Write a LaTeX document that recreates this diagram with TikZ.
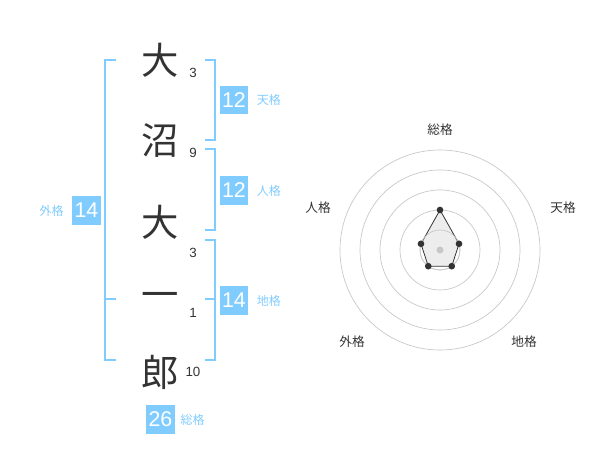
\documentclass[tikz,border=0pt]{standalone}
\usepackage{fontspec}
\usetikzlibrary{positioning,calc}
\setmainfont{Noto Sans CJK JP}
\newfontfamily\digits{Liberation Sans}
\definecolor{skyblue}{HTML}{80CCFF}
\definecolor{inkgray}{HTML}{333333}
\begin{document}
\begin{tikzpicture}[x=0.75pt, y=-0.75pt, font=\small]
      \tikzset{kanji/.style={text=inkgray, font=\fontsize{28}{28}\selectfont, inner sep=0pt},
               stroke/.style={text=inkgray, font=\digits\fontsize{10}{10}\selectfont, inner sep=0pt},
               valbox/.style={fill=skyblue, text=white, minimum width=21.5pt, minimum height=21.5pt, inner sep=0pt, font=\digits\fontsize{16}{16}\selectfont},
               kaku/.style={text=skyblue, font=\fontsize{9}{9}\selectfont, inner sep=0pt},
               brk/.style={draw=skyblue, line width=1.4pt},
               ring/.style={draw=black!22, line width=0.5pt},
               axis/.style={text=inkgray, font=\fontsize{9.5}{9.5}\selectfont, inner sep=0pt},
               dot/.style={circle, fill=inkgray, inner sep=0pt, minimum size=5pt}}
      \useasboundingbox (0,0) rectangle (600,470);

      \node[kanji] (c1) at (160,60) {大};
      \node[kanji] (c2) at (160,141) {沼};
      \node[kanji] (c3) at (160,222) {大};
      \node[kanji] (c4) at (160,300) {一};
      \node[kanji] (c5) at (160,372) {郎};
      \node[stroke] (s1) at (193,73) {3};
      \node[stroke] (s2) at (193,153) {9};
      \node[stroke] (s3) at (193,253) {3};
      \node[stroke] (s4) at (193,313) {1};
      \node[stroke] (s5) at (193,372) {10};

      % brackets
      \draw[brk] (116,60) -- (105,60) -- (105,360) -- (116,360);
      \draw[brk] (105,299) -- (116,299);
      \draw[brk] (205,60) -- (215,60) -- (215,140) -- (205,140);
      \draw[brk] (205,149) -- (215,149) -- (215,230) -- (205,230);
      \draw[brk] (205,240) -- (215,240) -- (215,360) -- (205,360);
      \draw[brk] (205,299) -- (215,299);

      \node[valbox] (ten) at (234,100) {12};
      \node[kaku, right=6pt of ten] (tenl) {天格};
      \node[valbox] (jin) at (234,190.5) {12};
      \node[kaku, right=6pt of jin] (jinl) {人格};
      \node[valbox] (chi) at (234,300.5) {14};
      \node[kaku, right=6pt of chi] (chil) {地格};
      \node[valbox] (gai) at (86.5,210.5) {14};
      \node[kaku, left=6pt of gai] (gail) {外格};
      \node[valbox] (sou) at (160.5,419.5) {26};
      \node[kaku, right=4pt of sou] (soul) {総格};

      % radar
      \coordinate (ctr) at (440,250);
      \foreach \r in {20,40,60,80,100}
        \draw[ring] (ctr) circle[radius=\r];
      \coordinate (p1) at ($(ctr)+(-90:40)$);
      \coordinate (p2) at ($(ctr)+(-18:20)$);
      \coordinate (p3) at ($(ctr)+(54:20)$);
      \coordinate (p4) at ($(ctr)+(126:20)$);
      \coordinate (p5) at ($(ctr)+(-162:20)$);
      \draw[fill=black!7, draw=inkgray, line width=0.6pt] (p1) -- (p2) -- (p3) -- (p4) -- (p5) -- cycle;
      \draw[ring] (ctr) circle[radius=20];
      \fill[black!22] (ctr) circle[radius=3.5];
      \foreach \p in {p1,p2,p3,p4,p5}
        \node[dot] at (\p) {};
      \node[axis] (rsou) at (440,130) {総格};
      \node[axis] (rten) at (563,208) {天格};
      \node[axis] (rchi) at (524,342) {地格};
      \node[axis] (rgai) at (352,342) {外格};
      \node[axis] (rjin) at (318,208) {人格};
\end{tikzpicture}
\end{document}
